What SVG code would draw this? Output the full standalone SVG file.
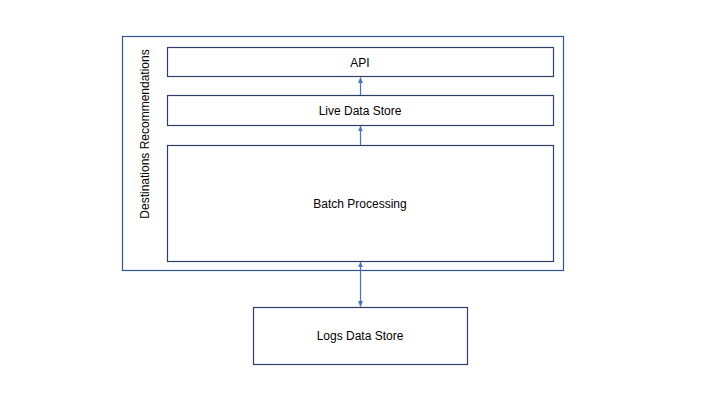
<svg xmlns="http://www.w3.org/2000/svg" width="720" height="405" viewBox="0 0 720 405">
<style>
.box{fill:#fff;stroke:#2F3F66;stroke-width:1.2}
.outer{fill:#fff;stroke:#2F5597;stroke-width:1.2}
.lbl{font-family:"Liberation Sans",Arial,sans-serif;font-size:12px;fill:#000;text-anchor:middle;dominant-baseline:central}
.conn{stroke:#4472C4;stroke-width:1.2;fill:none}
</style>
<defs>
<marker id="ah" viewBox="0 0 10 10" refX="9" refY="5" markerWidth="6" markerHeight="6" orient="auto-start-reverse" markerUnits="userSpaceOnUse">
<path d="M0,1 L10,5 L0,9 z" fill="#4472C4"/>
</marker>
</defs>
<rect width="720" height="405" fill="#fff"/>
<g id="destinations-recommendations">
<rect class="outer" x="122.5" y="36.5" width="441" height="234"/>
<text class="lbl" transform="translate(145,134) rotate(-90)">Destinations Recommendations</text>
</g>
<g id="api">
<rect class="box" x="167.5" y="47.5" width="386" height="29"/>
<text class="lbl" x="360" y="63">API</text>
</g>
<g id="live-data-store">
<rect class="box" x="167.5" y="95.5" width="386" height="30"/>
<text class="lbl" x="360" y="111">Live Data Store</text>
</g>
<g id="batch-processing">
<rect class="box" x="167.5" y="145.5" width="386" height="116"/>
<text class="lbl" x="360" y="204">Batch Processing</text>
</g>
<g id="logs-data-store">
<rect class="box" x="253.5" y="307.5" width="214" height="57"/>
<text class="lbl" x="360" y="336">Logs Data Store</text>
</g>
<g id="connectors">
<line class="conn" x1="360.5" y1="95" x2="360.5" y2="77.5" marker-end="url(#ah)"/>
<line class="conn" x1="360.5" y1="145" x2="360.5" y2="126" marker-end="url(#ah)"/>
<line class="conn" x1="360.5" y1="306.5" x2="360.5" y2="262" marker-start="url(#ah)" marker-end="url(#ah)"/>
</g>
</svg>
